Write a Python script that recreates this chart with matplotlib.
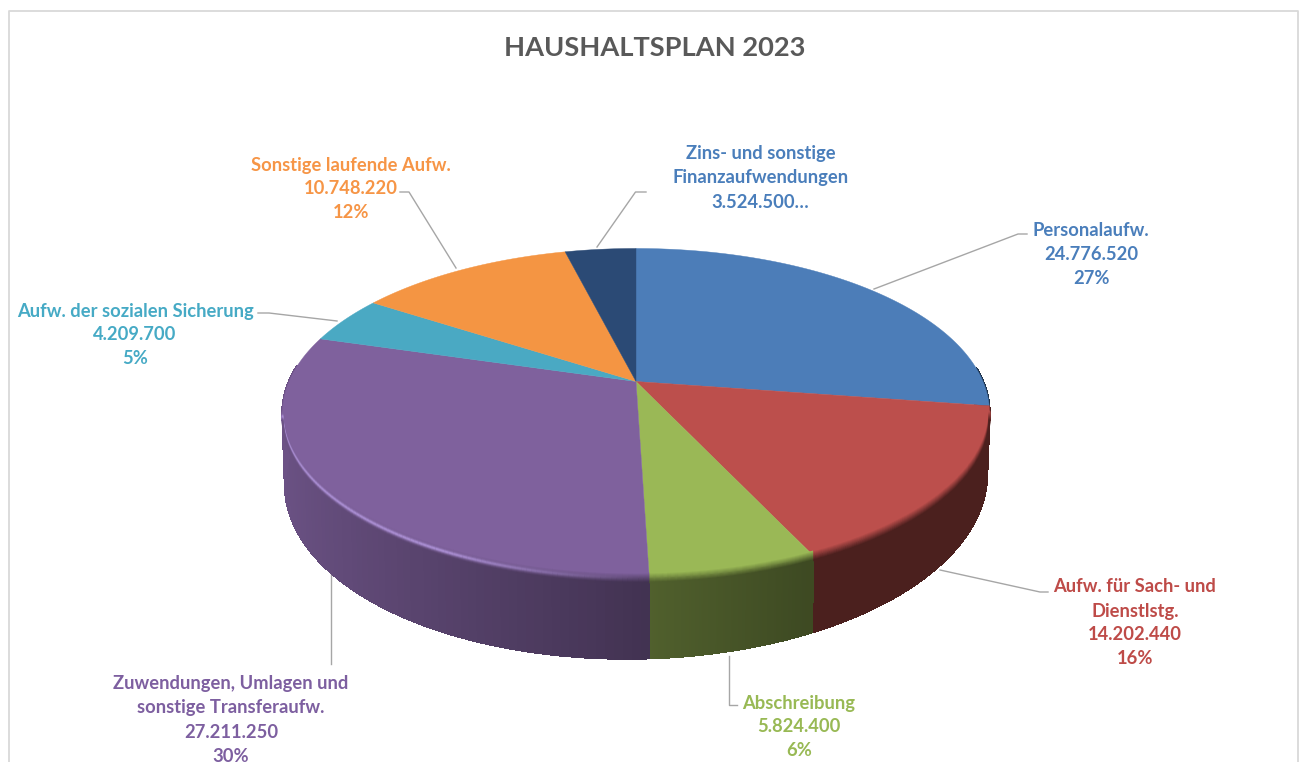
import numpy as np
import matplotlib
matplotlib.use("Agg")
import matplotlib.pyplot as plt
from matplotlib.collections import PolyCollection, LineCollection
from matplotlib.colors import to_rgb

title = "HAUSHALTSPLAN 2023"
names = [["Personalaufw."],
         ["Aufw. für Sach- und", "Dienstlstg."],
         ["Abschreibung"],
         ["Zuwendungen, Umlagen und", "sonstige Transferaufw."],
         ["Aufw. der sozialen Sicherung"],
         ["Sonstige laufende Aufw."],
         ["Zins- und sonstige", "Finanzaufwendungen"]]
values = [24776520, 14202440, 5824400, 27211250, 4209700, 10748220, 3524500]
colors = ["#4c7db8", "#bc4f4c", "#9ab856", "#7f619d", "#4aa9c3", "#f49543", "#2b4a75"]
text_colors = ["#4a7ebb", "#be4b48", "#98b954", "#7d5fa0", "#46aac5", "#f69546", "#4a7ebb"]
glow = [0, 0, 0, 1, 0, 0, 0]
label_x = [1091, 1135, 799, 231, 135, 351, 760.5]
label_y = [231, 587, 703, 684, 311, 165, 154]
leaders = [[(874, 289), (1018, 234), (1027, 234)],
           [(940, 570), (1040, 592), (1048, 592)],
           [(729, 656), (729, 705), (737, 705)],
           [(331, 573), (331, 664)],
           [(337, 321), (269, 313), (258, 313)],
           [(456, 268), (409, 192), (400, 192)],
           [(597, 247), (635.5, 192), (646, 192)]]

CX, CY, SX, SY, K = 636, 381.5, 347, 158.5, 0.1915
FONT = "Lato"
fig = plt.figure(figsize=(13, 7.62), dpi=100, facecolor="white")
ax = fig.add_axes([0, 0, 1, 1])
ax.set_xlim(0, 1300)
ax.set_ylim(762, 0)
ax.axis("off")


def top_xy(t):
    X, Y = np.sin(t), np.cos(t)
    w = 1 + K * Y
    return CX + SX * X / w, CY - SY * Y / w


def bottom_xy(t):
    X, Y = np.sin(t), np.cos(t)
    x, y = top_xy(t)
    return CX + (x - CX) * 0.993, y + 62 - 19 * Y - 5.5 * X


def shade(t):
    return np.maximum(0.4, 0.53 - 0.32 * np.sin(t))


total = sum(values)
edges = 2 * np.pi * np.concatenate([[0], np.cumsum(values)]) / total

# frame
ax.plot([8.5, 8.5, 1298, 1298], [762, 11, 11, 762], color="#d9d9d9", lw=1.3, zorder=0)

# side wall
for i, c in enumerate(colors):
    ts = np.linspace(edges[i], edges[i + 1], 90)
    xt, yt = top_xy(ts)
    xb, yb = bottom_xy(ts)
    polys, cols = [], []
    base = np.array(to_rgb(c))
    for j in range(len(ts) - 1):
        if np.cos(ts[j]) > 0.08 and np.cos(ts[j + 1]) > 0.08:
            continue
        polys.append([(xt[j], yt[j]), (xt[j + 1], yt[j + 1]), (xb[j + 1], yb[j + 1]), (xb[j], yb[j])])
        cols.append(base * shade(0.5 * (ts[j] + ts[j + 1])))
    if polys:
        ax.add_collection(PolyCollection(polys, facecolors=cols, edgecolors=cols, lw=1.0,
                                         antialiaseds=False, zorder=2))

# top face
for i, c in enumerate(colors):
    ts = np.linspace(edges[i], edges[i + 1], 200)
    x, y = top_xy(ts)
    ax.fill(np.r_[CX, x], np.r_[CY, y], facecolor=c, edgecolor=c, lw=0.3, zorder=3)

# soft rim between top face and side wall
for i, c in enumerate(colors):
    ts = np.linspace(edges[i], edges[i + 1], 150)
    ts = ts[np.cos(ts) < -0.2]
    if len(ts) < 2:
        continue
    base = np.array(to_rgb(c))
    x, y = top_xy(ts)
    for d in np.arange(-4, 5.5, 1.0):
        a = np.clip((d + 4) / 9, 0, 1)
        segs, cols = [], []
        for j in range(len(ts) - 1):
            tm = 0.5 * (ts[j] + ts[j + 1])
            col = base * (1 - a) + base * shade(tm) * a
            if glow[i]:
                strength = np.clip(-np.sin(tm) * 2.2, 0, 1) * np.exp(-((d - 0.5) / 1.9) ** 2)
                col = col * (1 - strength) + np.array([0.67, 0.56, 0.83]) * strength
            segs.append([(x[j], y[j] + d), (x[j + 1], y[j + 1] + d)])
            cols.append(col)
        ax.add_collection(LineCollection(segs, colors=cols, lw=1.3, zorder=4))

# leader lines
for pts in leaders:
    px, py = zip(*pts)
    ax.plot(px, py, color="#a6a6a6", lw=1.0, zorder=1)

# labels
for i, nm in enumerate(names):
    val = f"{values[i]:,}".replace(",", ".")
    if i == 6:
        lines = nm + [val + "…"]
    else:
        lines = nm + [val, f"{round(100 * values[i] / total)}%"]
    for k, line in enumerate(lines):
        ax.text(label_x[i], label_y[i] + 24 * k, line, color=text_colors[i], family=FONT,
                weight="bold", fontsize=13.2, ha="center", va="center", zorder=5)

ax.text(655, 48.5, title, color="#595959", family=FONT, weight="bold", fontsize=19.6,
        ha="center", va="center", zorder=5)

fig.savefig("out.png", dpi=100)
